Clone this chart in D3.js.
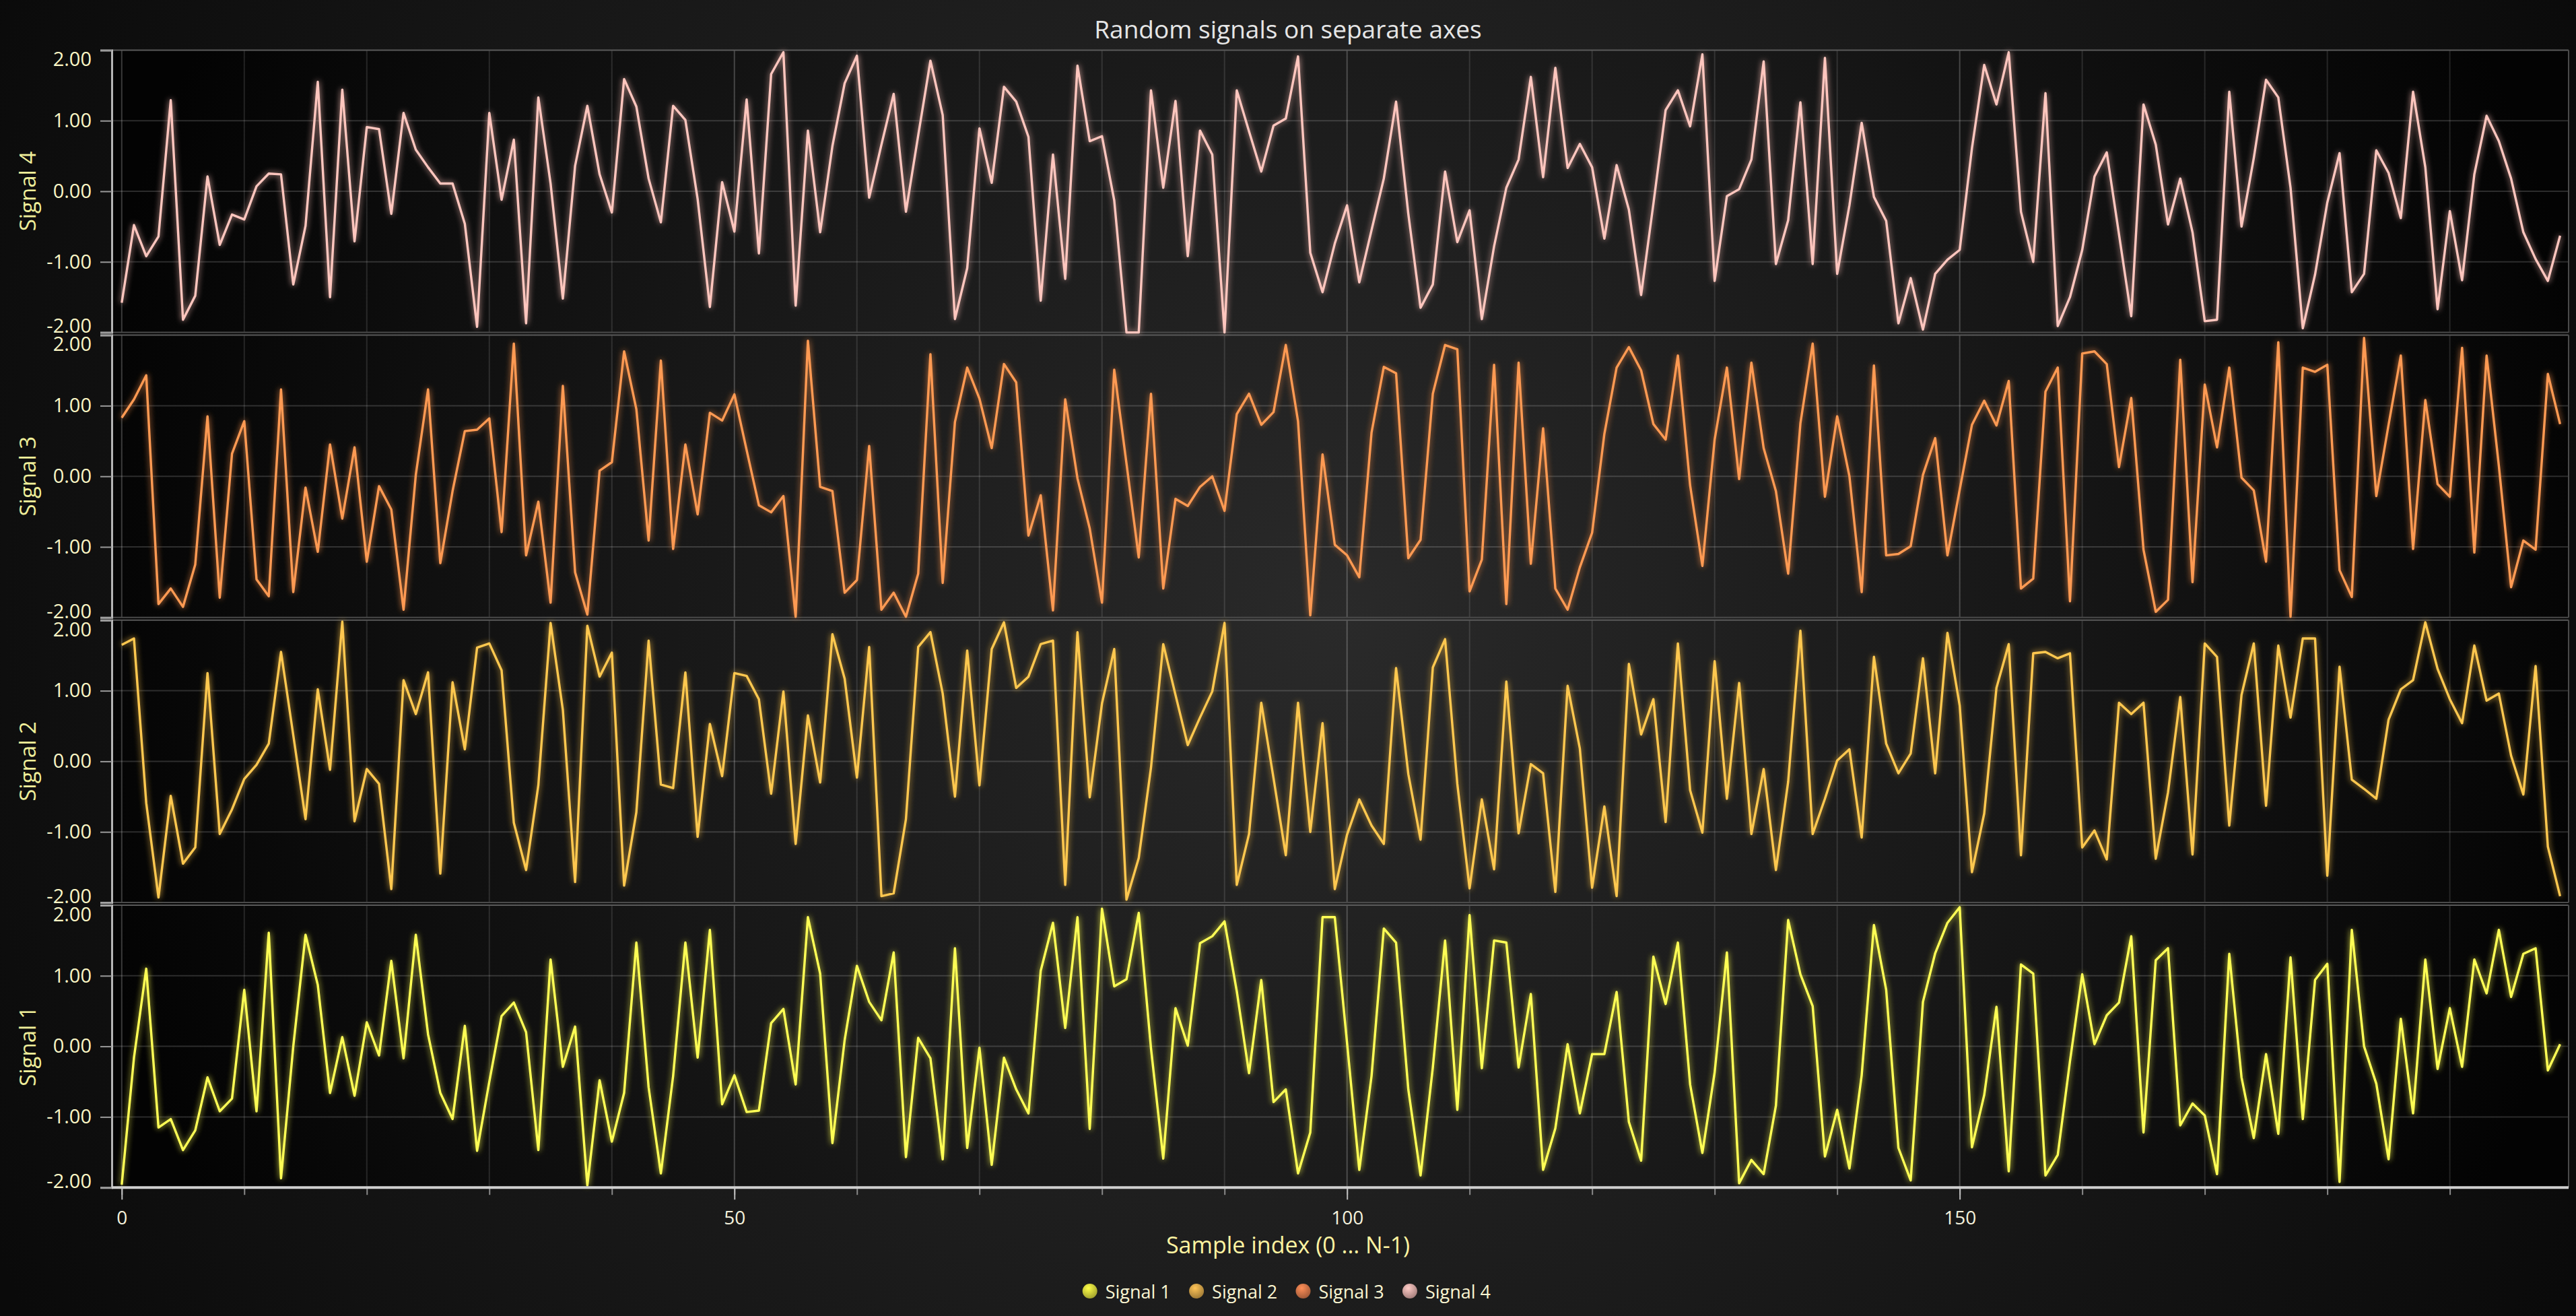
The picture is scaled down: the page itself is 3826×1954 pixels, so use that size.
<!DOCTYPE html>
<html><head><meta charset="utf-8">
<script src="https://cdn.jsdelivr.net/npm/d3@7/dist/d3.min.js"></script>
<style>
html,body{margin:0;padding:0;background:#0b0b0b;overflow:hidden;}
svg{display:block;}
text{font-family:"Segoe UI","Open Sans","Noto Sans",sans-serif;}
</style></head><body>
<svg id="chart" width="3826" height="1954"></svg>
<script>
const chartTitle = "Random signals on separate axes";
const xAxisTitle = "Sample index (0 ... N-1)";
const seriesNames = ["Signal 1", "Signal 2", "Signal 3", "Signal 4"];
const seriesColors = ["#ffff55", "#ffc850", "#ff9a52", "#ffc6be"];
const legendColors = ["#d9d93c", "#d6a449", "#d9784a", "#ddaaa6"];
const yTickValues = [-2, -1, 0, 1, 2];
const yTickLabels = ["-2.00", "-1.00", "0.00", "1.00", "2.00"];
const xMajorTicks = [0, 50, 100, 150];
const xMajorLabels = ["0", "50", "100", "150"];
const xMinorTicks = [0, 10, 20, 30, 40, 50, 60, 70, 80, 90, 100, 110, 120, 130, 140, 150, 160, 170, 180, 190];

const signal1 = [-1.96,-0.16,1.10,-1.15,-1.03,-1.47,-1.19,-0.44,-0.92,-0.74,0.80,-0.92,1.61,-1.87,0.00,1.58,0.87,-0.66,0.13,-0.70,
0.34,-0.13,1.21,-0.17,1.58,0.17,-0.66,-1.03,0.29,-1.48,-0.50,0.43,0.62,0.20,-1.47,1.23,-0.29,0.28,-1.97,-0.48,
-1.35,-0.66,1.47,-0.58,-1.80,-0.42,1.47,-0.16,1.65,-0.82,-0.41,-0.93,-0.91,0.33,0.53,-0.54,1.83,1.03,-1.37,0.09,
1.14,0.63,0.37,1.33,-1.57,0.12,-0.17,-1.60,1.39,-1.44,-0.02,-1.68,-0.16,-0.61,-0.95,1.07,1.75,0.26,1.83,-1.17,
1.95,0.85,0.95,1.89,-0.03,-1.59,0.54,0.01,1.46,1.56,1.77,0.78,-0.38,0.94,-0.79,-0.61,-1.80,-1.22,1.83,1.83,
0.05,-1.75,-0.42,1.67,1.47,-0.61,-1.83,-0.30,1.50,-0.90,1.86,-0.31,1.50,1.47,-0.30,0.74,-1.75,-1.16,0.03,-0.95,
-0.11,-0.11,0.77,-1.07,-1.62,1.27,0.60,1.47,-0.54,-1.51,-0.37,1.33,-1.94,-1.61,-1.81,-0.84,1.79,1.02,0.57,-1.56,
-0.90,-1.73,-0.41,1.72,0.80,-1.44,-1.90,0.63,1.32,1.75,1.97,-1.43,-0.69,0.56,-1.77,1.16,1.03,-1.83,-1.54,-0.21,
1.02,0.03,0.44,0.62,1.56,-1.22,1.22,1.39,-1.12,-0.81,-0.98,-1.81,1.31,-0.44,-1.30,-0.11,-1.24,1.26,-1.03,0.94,
1.17,-1.92,1.65,0.00,-0.53,-1.60,0.39,-0.95,1.23,-0.32,0.54,-0.29,1.23,0.75,1.65,0.70,1.31,1.39,-0.34,0.03];

const signal2 = [1.65,1.74,-0.59,-1.93,-0.49,-1.45,-1.22,1.25,-1.03,-0.68,-0.25,-0.05,0.25,1.55,0.37,-0.82,1.02,-0.12,1.98,-0.85,
-0.11,-0.32,-1.81,1.15,0.67,1.26,-1.59,1.12,0.17,1.61,1.67,1.29,-0.87,-1.54,-0.34,1.96,0.73,-1.71,1.92,1.20,
1.54,-1.76,-0.72,1.71,-0.33,-0.38,1.26,-1.07,0.53,-0.21,1.25,1.21,0.88,-0.46,0.99,-1.17,0.65,-0.30,1.80,1.17,
-0.23,1.62,-1.91,-1.87,-0.82,1.62,1.83,0.96,-0.50,1.57,-0.34,1.59,1.97,1.04,1.20,1.66,1.71,-1.75,1.83,-0.51,
0.82,1.59,-1.96,-1.37,-0.09,1.66,0.94,0.23,0.62,0.99,1.96,-1.75,-1.03,0.83,-0.24,-1.33,0.83,-1.00,0.54,-1.81,
-1.04,-0.54,-0.91,-1.17,1.32,-0.18,-1.11,1.33,1.73,-0.32,-1.80,-0.54,-1.53,1.13,-1.02,-0.04,-0.17,-1.85,1.07,0.18,
-1.79,-0.64,-1.91,1.38,0.38,0.88,-0.86,1.67,-0.41,-1.01,1.42,-0.53,1.11,-1.03,-0.11,-1.54,-0.29,1.85,-1.03,-0.53,
0.01,0.17,-1.08,1.48,0.25,-0.17,0.11,1.46,-0.17,1.82,0.79,-1.57,-0.74,1.04,1.66,-1.33,1.53,1.55,1.46,1.53,
-1.22,-0.98,-1.39,0.83,0.67,0.83,-1.38,-0.44,0.91,-1.32,1.67,1.48,-0.91,0.94,1.67,-0.63,1.64,0.62,1.74,1.74,
-1.62,1.34,-0.26,-0.39,-0.53,0.59,1.02,1.15,1.97,1.31,0.88,0.54,1.64,0.86,0.96,0.08,-0.47,1.35,-1.21,-1.91];

const signal3 = [0.83,1.09,1.43,-1.81,-1.59,-1.85,-1.25,0.85,-1.72,0.32,0.78,-1.46,-1.70,1.23,-1.64,-0.16,-1.07,0.45,-0.60,0.41,
-1.21,-0.14,-0.47,-1.89,0.02,1.23,-1.23,-0.21,0.64,0.66,0.82,-0.79,1.88,-1.12,-0.36,-1.79,1.28,-1.36,-1.96,0.08,
0.20,1.77,0.95,-0.91,1.64,-1.03,0.45,-0.54,0.90,0.79,1.16,0.37,-0.41,-0.51,-0.28,-1.99,1.92,-0.15,-0.21,-1.65,
-1.47,0.43,-1.89,-1.65,-1.99,-1.38,1.73,-1.51,0.77,1.54,1.10,0.40,1.59,1.33,-0.84,-0.27,-1.90,1.09,-0.03,-0.74,
-1.79,1.51,0.18,-1.15,1.17,-1.59,-0.32,-0.42,-0.15,0.00,-0.49,0.88,1.17,0.73,0.91,1.86,0.78,-1.97,0.31,-0.97,
-1.12,-1.43,0.62,1.55,1.46,-1.16,-0.90,1.17,1.86,1.80,-1.63,-1.18,1.58,-1.81,1.61,-1.24,0.68,-1.59,-1.89,-1.29,
-0.80,0.60,1.54,1.83,1.50,0.74,0.52,1.71,-0.13,-1.27,0.52,1.54,-0.04,1.61,0.40,-0.21,-1.38,0.75,1.88,-0.29,
0.85,0.00,-1.64,1.57,-1.12,-1.10,-0.99,0.02,0.54,-1.12,-0.19,0.73,1.07,0.72,1.35,-1.59,-1.45,1.20,1.54,-1.77,
1.74,1.77,1.59,0.13,1.11,-1.04,-1.92,-1.75,1.65,-1.50,1.30,0.41,1.54,-0.02,-0.20,-1.21,1.90,-1.99,1.54,1.48,
1.58,-1.33,-1.71,1.96,-0.28,0.73,1.71,-1.03,1.08,-0.11,-0.29,1.82,-1.08,1.71,0.15,-1.57,-0.91,-1.04,1.45,0.74];

const signal4 = [-1.58,-0.48,-0.92,-0.64,1.29,-1.82,-1.48,0.21,-0.76,-0.33,-0.40,0.07,0.25,0.24,-1.32,-0.49,1.55,-1.50,1.44,-0.71,
0.91,0.88,-0.32,1.11,0.59,0.34,0.11,0.11,-0.46,-1.92,1.11,-0.12,0.73,-1.87,1.33,0.11,-1.52,0.36,1.21,0.24,
-0.30,1.59,1.20,0.18,-0.44,1.21,1.01,-0.11,-1.64,0.13,-0.57,1.30,-0.88,1.66,1.97,-1.62,0.86,-0.58,0.64,1.53,
1.92,-0.09,0.66,1.38,-0.29,0.79,1.85,1.08,-1.81,-1.09,0.89,0.12,1.48,1.27,0.77,-1.55,0.52,-1.24,1.78,0.71,
0.78,-0.13,-2.00,-2.00,1.43,0.05,1.28,-0.92,0.86,0.52,-2.00,1.43,0.85,0.28,0.93,1.03,1.91,-0.87,-1.43,-0.74,
-0.20,-1.29,-0.55,0.18,1.27,-0.32,-1.65,-1.32,0.28,-0.72,-0.27,-1.81,-0.78,0.05,0.45,1.62,0.20,1.75,0.33,0.67,
0.34,-0.67,0.37,-0.26,-1.47,-0.18,1.15,1.43,0.92,1.94,-1.27,-0.07,0.03,0.45,1.84,-1.03,-0.41,1.26,-1.03,1.89,
-1.17,-0.20,0.97,-0.08,-0.42,-1.87,-1.23,-1.96,-1.17,-0.97,-0.83,0.61,1.79,1.23,1.97,-0.29,-1.00,1.39,-1.91,-1.50,
-0.83,0.21,0.55,-0.61,-1.77,1.23,0.66,-0.47,0.18,-0.58,-1.84,-1.82,1.41,-0.50,0.47,1.58,1.33,0.05,-1.94,-1.18,
-0.16,0.54,-1.43,-1.17,0.58,0.26,-0.38,1.41,0.34,-1.67,-0.28,-1.26,0.24,1.07,0.71,0.18,-0.58,-0.96,-1.27,-0.63];

const seriesData = [signal1, signal2, signal3, signal4];

// ---------- layout ----------
const W = 3826, H = 1954;
const plotLeft = 166, plotRight = 3815, plotTop = 74.4;
const panelH = 419.2, panelStep = 423.2;
const plotBottom = plotTop + 3 * panelStep + panelH;
const FONT = '"Segoe UI","Open Sans","Noto Sans",sans-serif';

const svg = d3.select("#chart");
const defs = svg.append("defs");

const bgGrad = defs.append("radialGradient").attr("id", "bgGrad")
  .attr("gradientUnits", "userSpaceOnUse").attr("cx", 1913).attr("cy", 900).attr("r", 2150);
bgGrad.append("stop").attr("offset", 0).attr("stop-color", "#2e2e2e");
bgGrad.append("stop").attr("offset", 1).attr("stop-color", "#0a0a0a");

const plotGrad = defs.append("radialGradient").attr("id", "plotGrad")
  .attr("gradientUnits", "userSpaceOnUse").attr("cx", 1990).attr("cy", 920).attr("r", 1900);
plotGrad.append("stop").attr("offset", 0).attr("stop-color", "#2a2a2a");
plotGrad.append("stop").attr("offset", 0.55).attr("stop-color", "#171717");
plotGrad.append("stop").attr("offset", 1).attr("stop-color", "#030303");

const glow = defs.append("filter").attr("id", "glow")
  .attr("x", "-2%").attr("y", "-10%").attr("width", "104%").attr("height", "120%");
glow.append("feGaussianBlur").attr("in", "SourceAlpha").attr("stdDeviation", 5).attr("result", "sb");
glow.append("feFlood").attr("flood-color", "#000").attr("flood-opacity", 0.8).attr("result", "sc");
glow.append("feComposite").attr("in", "sc").attr("in2", "sb").attr("operator", "in").attr("result", "shadow");
glow.append("feGaussianBlur").attr("in", "SourceGraphic").attr("stdDeviation", 4).attr("result", "gb");
glow.append("feComponentTransfer").attr("in", "gb").attr("result", "glowc")
  .append("feFuncA").attr("type", "linear").attr("slope", 0.55);
const merge = glow.append("feMerge");
merge.append("feMergeNode").attr("in", "shadow");
merge.append("feMergeNode").attr("in", "glowc");
merge.append("feMergeNode").attr("in", "SourceGraphic");

seriesNames.forEach((n, i) => {
  const g = defs.append("radialGradient").attr("id", "leg" + i)
    .attr("cx", 0.4).attr("cy", 0.3).attr("r", 0.75);
  g.append("stop").attr("offset", 0).attr("stop-color", d3.color(legendColors[i]).brighter(0.5));
  g.append("stop").attr("offset", 1).attr("stop-color", d3.color(legendColors[i]).darker(0.9));
});

// backgrounds
svg.append("rect").attr("width", W).attr("height", H).attr("fill", "url(#bgGrad)");
svg.append("rect").attr("x", plotLeft).attr("y", plotTop)
  .attr("width", plotRight - plotLeft).attr("height", plotBottom - plotTop)
  .attr("fill", "url(#plotGrad)");

const x = d3.scaleLinear().domain([0, 199]).range([180.8, 3802.4]);

// title
svg.append("text").attr("x", 1913).attr("y", 42)
  .attr("text-anchor", "middle").attr("dominant-baseline", "central")
  .attr("font-size", 37).attr("fill", "#e6e6e6").text(chartTitle);

// panels: top = Signal 4 ... bottom = Signal 1
const panels = seriesNames.map((name, s) => {
  const k = 3 - s;
  const top = plotTop + k * panelStep;
  const y = d3.scaleLinear().domain([-2, 2]).range([top + panelH, top]);
  return { s, k, top, y };
});

panels.forEach(p => {
  const g = svg.append("g");
  // horizontal grid
  g.append("g").selectAll("line").data(yTickValues.filter(v => v > -2 && v < 2)).join("line")
    .attr("x1", plotLeft).attr("x2", plotRight)
    .attr("y1", d => p.y(d)).attr("y2", d => p.y(d))
    .attr("stroke", "rgba(255,255,255,0.16)").attr("stroke-width", 2);
  // vertical grid
  g.append("g").selectAll("line").data(xMinorTicks).join("line")
    .attr("x1", d => x(d)).attr("x2", d => x(d))
    .attr("y1", p.top).attr("y2", p.top + panelH)
    .attr("stroke", d => xMajorTicks.includes(d) ? "rgba(255,255,255,0.22)" : "rgba(255,255,255,0.12)")
    .attr("stroke-width", 2);
  // panel border lines
  g.append("line").attr("x1", plotLeft).attr("x2", plotRight)
    .attr("y1", p.top).attr("y2", p.top)
    .attr("stroke", "#5a5a5a").attr("stroke-width", 2);
  g.append("line").attr("x1", plotLeft).attr("x2", plotRight)
    .attr("y1", p.top + panelH).attr("y2", p.top + panelH)
    .attr("stroke", "#4a4a4a").attr("stroke-width", 2);
  g.append("line").attr("x1", plotRight).attr("x2", plotRight)
    .attr("y1", p.top).attr("y2", p.top + panelH)
    .attr("stroke", "#4a4a4a").attr("stroke-width", 2);

  // y axis
  const ax = g.append("g").attr("transform", `translate(${plotLeft},0)`)
    .call(d3.axisLeft(p.y).tickValues(yTickValues)
      .tickFormat((d, i) => yTickLabels[i]).tickSize(17).tickPadding(13));
  ax.select(".domain").attr("stroke", "#b5b5b5").attr("stroke-width", 3);
  ax.selectAll(".tick line").attr("stroke", "#9a9a9a").attr("stroke-width", 2);
  ax.selectAll(".tick text").attr("font-size", 29).attr("fill", "#fbf6c6")
    .attr("font-family", FONT)
    .attr("y", d => d === 2 ? 14 : (d === -2 ? -9 : 0));

  // y title
  g.append("text")
    .attr("transform", `translate(40,${p.top + panelH / 2}) rotate(-90)`)
    .attr("text-anchor", "middle").attr("dominant-baseline", "central")
    .attr("font-size", 33).attr("fill", "#efee9a").text(seriesNames[p.s]);
});

// lines
const lineGen = d3.line();
panels.forEach(p => {
  const pts = seriesData[p.s].map((v, i) => [x(i), p.y(v)]);
  svg.append("path").attr("d", lineGen(pts))
    .attr("fill", "none").attr("stroke", seriesColors[p.s])
    .attr("stroke-width", 3.4).attr("stroke-linejoin", "round")
    .attr("filter", "url(#glow)");
});

// x axis
const xa = svg.append("g").attr("transform", `translate(0,${plotBottom})`);
const minorAx = xa.append("g").call(d3.axisBottom(x).tickValues(xMinorTicks).tickSize(11).tickFormat(""));
minorAx.select(".domain").remove();
minorAx.selectAll(".tick line").attr("stroke", "#8a8a8a").attr("stroke-width", 2);
const majorAx = xa.append("g").call(d3.axisBottom(x).tickValues(xMajorTicks)
  .tickFormat((d, i) => xMajorLabels[i]).tickSize(18).tickPadding(17));
majorAx.select(".domain").remove();
majorAx.selectAll(".tick line").attr("stroke", "#bdbdbd").attr("stroke-width", 2);
majorAx.selectAll(".tick text").attr("font-size", 28).attr("fill", "#f4f1dc").attr("font-family", FONT);
xa.append("line").attr("x1", plotLeft).attr("x2", plotRight).attr("y1", 0).attr("y2", 0)
  .attr("stroke", "#cfcfcf").attr("stroke-width", 4);

svg.append("text").attr("x", 1913).attr("y", 1848)
  .attr("text-anchor", "middle").attr("dominant-baseline", "central")
  .attr("font-size", 34).attr("fill", "#fff4a2").text(xAxisTitle);

// legend
const legendX0 = 1618.7, legendPitch = 158.4, legendY = 1917;
const lg = svg.append("g").selectAll("g").data(seriesNames).join("g")
  .attr("transform", (d, i) => `translate(${legendX0 + i * legendPitch},${legendY})`);
lg.append("circle").attr("r", 11).attr("fill", (d, i) => `url(#leg${i})`);
lg.append("text").attr("x", 23).attr("dominant-baseline", "central")
  .attr("font-size", 27).attr("fill", "#fbf6d2").text(d => d);
</script>
</body></html>
